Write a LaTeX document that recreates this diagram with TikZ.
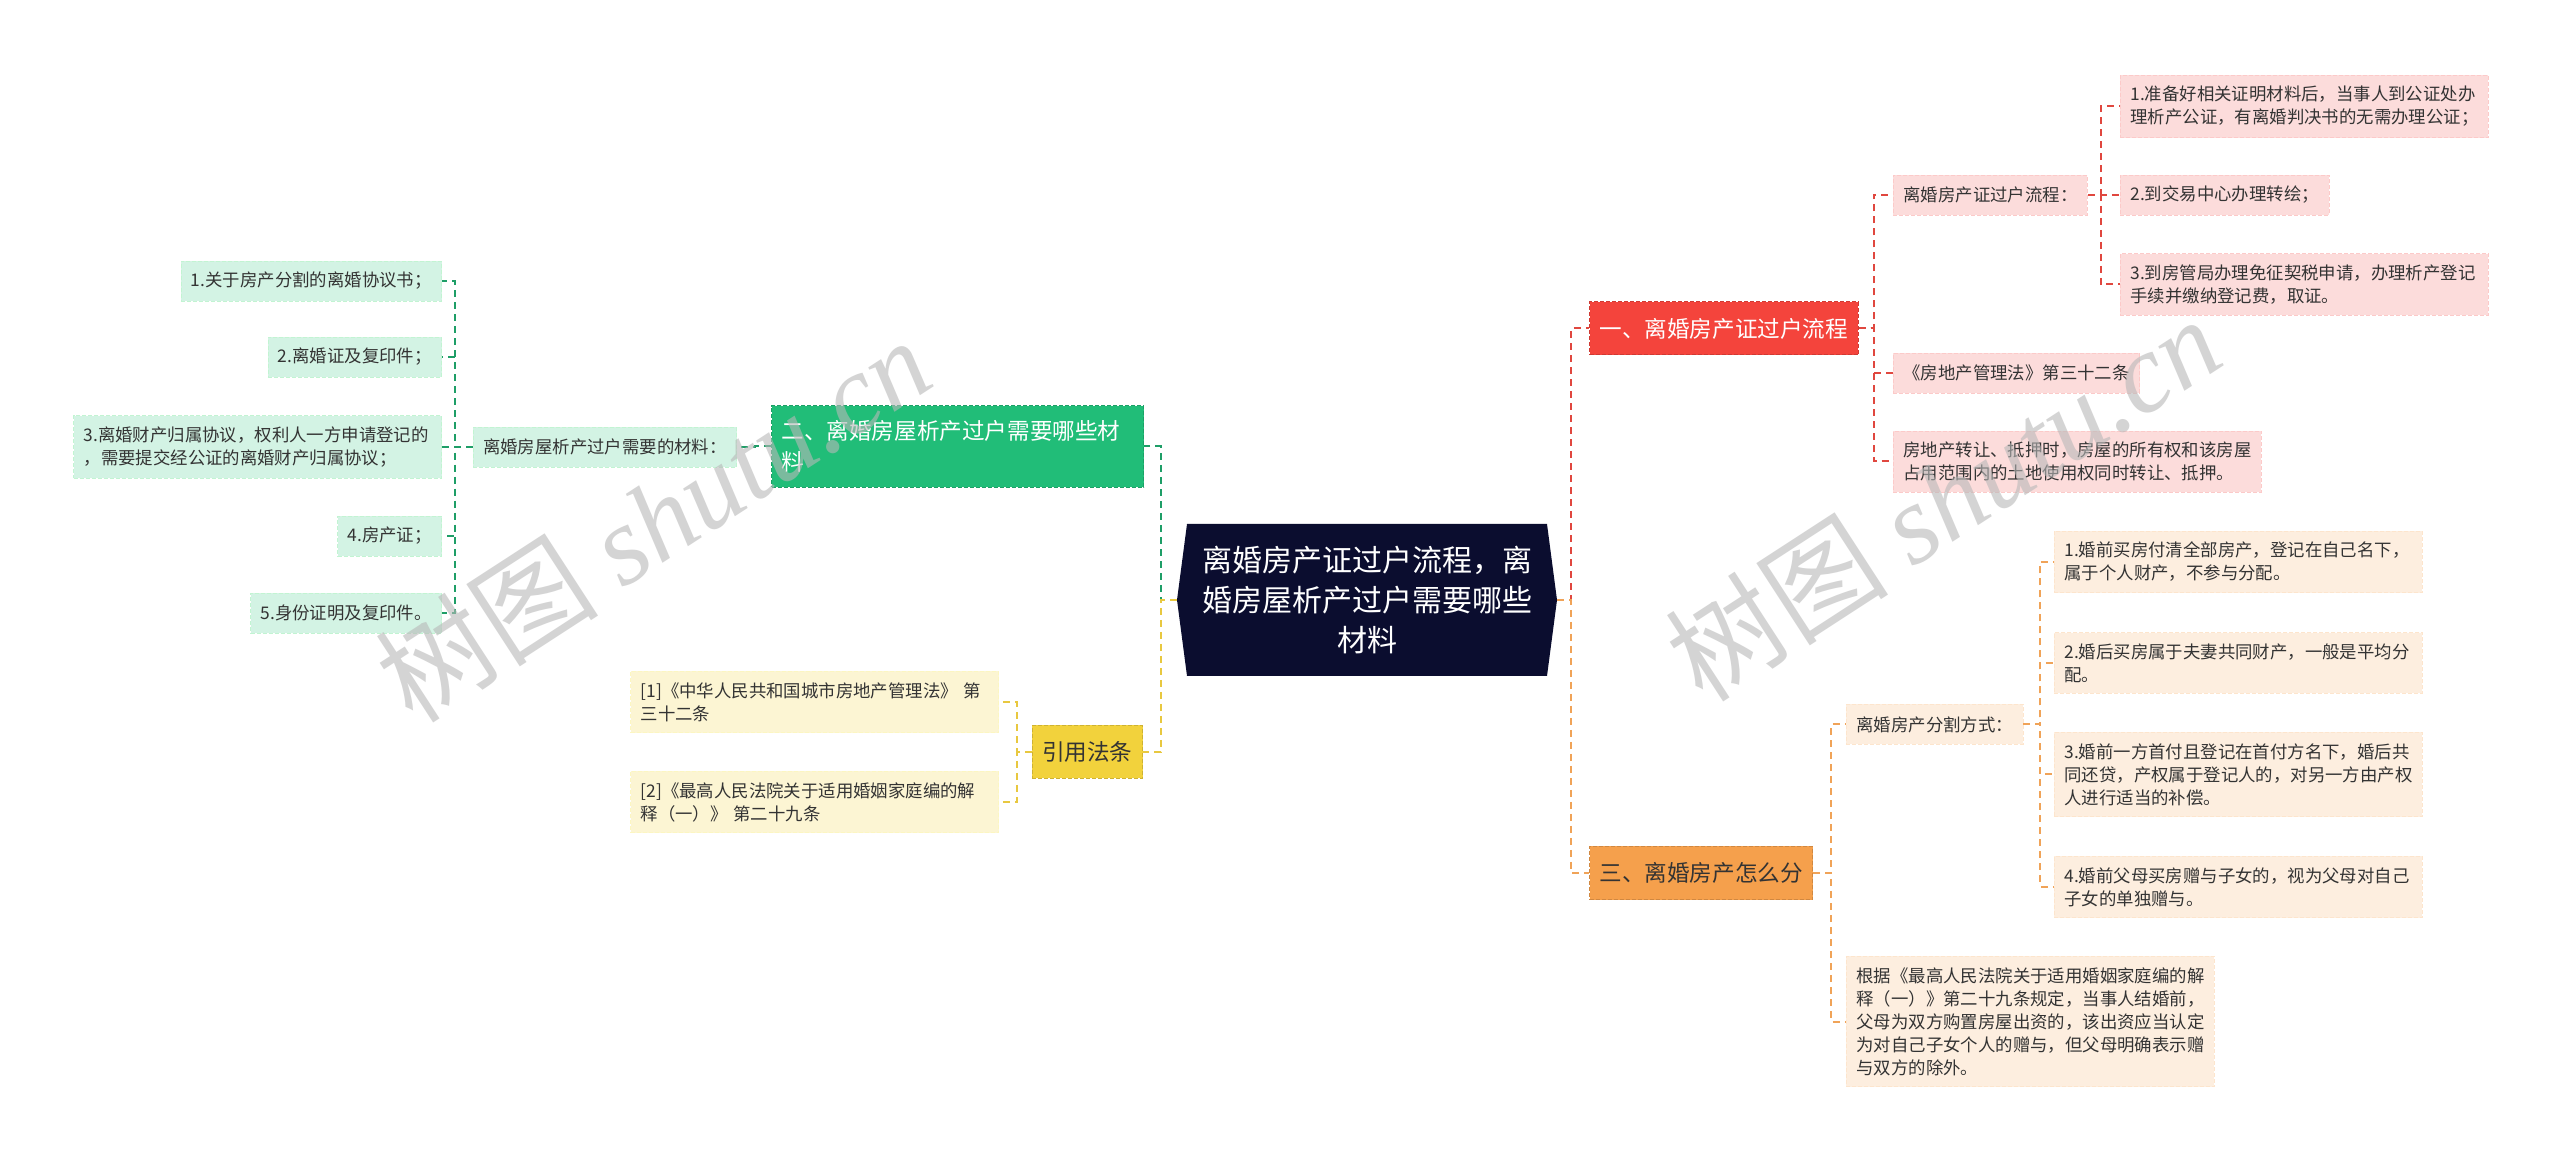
\documentclass[tikz,border=0pt]{standalone}
\usepackage{fontspec}
\setmainfont{Noto Sans CJK SC}
\newfontfamily\wmlatin{Liberation Serif}
\usetikzlibrary{shapes.symbols}

\definecolor{rootfill}{HTML}{0B0D2F}
\definecolor{redtopic}{HTML}{F4443C}
\definecolor{redleaf}{HTML}{FCDCDB}
\definecolor{redlink}{HTML}{E0473F}
\definecolor{orangetopic}{HTML}{F5A04C}
\definecolor{orangeleaf}{HTML}{FDEEDF}
\definecolor{orangelink}{HTML}{F0A358}
\definecolor{greentopic}{HTML}{21BD78}
\definecolor{greenleaf}{HTML}{D3F3E4}
\definecolor{greenlink}{HTML}{1E9E67}
\definecolor{yellowtopic}{HTML}{F2D23C}
\definecolor{yellowleaf}{HTML}{FCF5D3}
\definecolor{yellowlink}{HTML}{E8C840}
\definecolor{textdark}{HTML}{333333}
\definecolor{wmgray}{HTML}{B8B8B8}

\begin{document}
\begin{tikzpicture}[
  x=0.5pt,y=-0.5pt,
  root/.style={shape=signal,signal to=east and west,signal pointer angle=165,
    fill=rootfill,text=white,font=\fontsize{15}{20}\selectfont,align=center,
    text width=166pt,minimum width=190pt,minimum height=76pt,inner xsep=6pt,inner ysep=4pt},
  topic/.style={font=\fontsize{11.3}{15.3}\selectfont,inner xsep=5pt,inner ysep=7.5pt,
    minimum height=26.5pt,align=left,dash pattern=on 2pt off 1pt,line width=.5pt},
  leaf/.style={font=\fontsize{8.7}{11.5}\selectfont,text=textdark,inner xsep=5pt,inner ysep=5.5pt,
    minimum height=20pt,align=left,dash pattern=on 2pt off 1pt,line width=.4pt},
  wide/.style={text width=174pt},
  redbox/.style={leaf,fill=redleaf,draw=redleaf!92!red},
  orangebox/.style={leaf,fill=orangeleaf,draw=orangeleaf!92!orange},
  greenbox/.style={leaf,fill=greenleaf,draw=greenleaf!92!green},
  yellowbox/.style={leaf,fill=yellowleaf,draw=yellowleaf!92!yellow},
  link/.style={line width=1pt,dash pattern=on 3.5pt off 2.5pt},
  wm/.style={text=wmgray,opacity=.6,font=\fontsize{56}{56}\selectfont}
]
  \path[use as bounding box,fill=white] (0,0) rectangle (2560,1159);

  \node[root] (root) at (1367,600) {离婚房产证过户流程，离\\婚房屋析产过户需要哪些\\材料};

  % first level
  \node[topic,fill=redtopic,draw=redtopic!85!black,text=white,anchor=west] (proc) at (1589,328.5) {一、离婚房产证过户流程};
  \node[topic,fill=orangetopic,draw=orangetopic!85!black,text=textdark,anchor=west] (split) at (1589,873) {三、离婚房产怎么分};
  \node[topic,fill=greentopic,draw=greentopic!85!black,text=white,text width=176pt,anchor=east] (mater) at (1144,446.5) {二、离婚房屋析产过户需要哪些材\\料};
  \node[topic,fill=yellowtopic,draw=yellowtopic!85!black,text=textdark,anchor=east] (laws) at (1143,752) {引用法条};

  % red branch
  \node[redbox,anchor=west] (procsteps) at (1893,195) {离婚房产证过户流程：};
  \node[redbox,wide,anchor=west] (stepa) at (2120,106.5) {1.准备好相关证明材料后，当事人到公证处办\\理析产公证，有离婚判决书的无需办理公证；};
  \node[redbox,anchor=west] (stepb) at (2120,195) {2.到交易中心办理转绘；};
  \node[redbox,wide,anchor=west] (stepc) at (2120,284.5) {3.到房管局办理免征契税申请，办理析产登记\\手续并缴纳登记费，取证。};
  \node[redbox,anchor=west] (lawref) at (1893,373) {《房地产管理法》第三十二条};
  \node[redbox,wide,anchor=west] (lawtext) at (1893,461.5) {房地产转让、抵押时，房屋的所有权和该房屋\\占用范围内的土地使用权同时转让、抵押。};

  % orange branch
  \node[orangebox,anchor=west] (splitways) at (1846,724.5) {离婚房产分割方式：};
  \node[orangebox,wide,anchor=west] (waya) at (2054,562) {1.婚前买房付清全部房产，登记在自己名下，\\属于个人财产，不参与分配。};
  \node[orangebox,wide,anchor=west] (wayb) at (2054,663) {2.婚后买房属于夫妻共同财产，一般是平均分\\配。};
  \node[orangebox,wide,anchor=west] (wayc) at (2054,774.5) {3.婚前一方首付且登记在首付方名下，婚后共\\同还贷，产权属于登记人的，对另一方由产权\\人进行适当的补偿。};
  \node[orangebox,wide,anchor=west] (wayd) at (2054,887) {4.婚前父母买房赠与子女的，视为父母对自己\\子女的单独赠与。};
  \node[orangebox,wide,anchor=west] (splitrule) at (1846,1021.5) {根据《最高人民法院关于适用婚姻家庭编的解\\释（一）》第二十九条规定，当事人结婚前，\\父母为双方购置房屋出资的，该出资应当认定\\为对自己子女个人的赠与，但父母明确表示赠\\与双方的除外。};

  % green branch
  \node[greenbox,anchor=east] (matlist) at (737,447) {离婚房屋析产过户需要的材料：};
  \node[greenbox,anchor=east] (mata) at (442,281) {1.关于房产分割的离婚协议书；};
  \node[greenbox,anchor=east] (matb) at (442,357) {2.离婚证及复印件；};
  \node[greenbox,wide,anchor=east] (matc) at (442,447) {3.离婚财产归属协议，权利人一方申请登记的\\，需要提交经公证的离婚财产归属协议；};
  \node[greenbox,anchor=east] (matd) at (442,536) {4.房产证；};
  \node[greenbox,anchor=east] (mate) at (442,613) {5.身份证明及复印件。};

  % yellow branch
  \node[yellowbox,wide,anchor=east] (lawa) at (999,702) {[1]《中华人民共和国城市房地产管理法》 第\\三十二条};
  \node[yellowbox,wide,anchor=east] (lawb) at (999,802) {[2]《最高人民法院关于适用婚姻家庭编的解\\释（一）》 第二十九条};

  % connectors
  \draw[link,redlink] (root.east) -- ++(7pt,0) |- (proc.west);
  \draw[link,orangelink] (root.east) -- ++(7pt,0) |- (split.west);
  \draw[link,greenlink] (root.west) -- ++(-8pt,0) |- (mater.east);
  \draw[link,yellowlink] (root.west) -- ++(-8pt,0) |- (laws.east);

  \draw[link,redlink] (proc.east) -- ++(7.5pt,0) |- (procsteps.west);
  \draw[link,redlink] (proc.east) -- ++(7.5pt,0) |- (lawref.west);
  \draw[link,redlink] (proc.east) -- ++(7.5pt,0) |- (lawtext.west);
  \draw[link,redlink] (procsteps.east) -- ++(6.5pt,0) |- (stepa.west);
  \draw[link,redlink] (procsteps.east) -- ++(6.5pt,0) |- (stepb.west);
  \draw[link,redlink] (procsteps.east) -- ++(6.5pt,0) |- (stepc.west);

  \draw[link,orangelink] (split.east) -- ++(9pt,0) |- (splitways.west);
  \draw[link,orangelink] (split.east) -- ++(9pt,0) |- (splitrule.west);
  \draw[link,orangelink] (splitways.east) -- ++(8.5pt,0) |- (waya.west);
  \draw[link,orangelink] (splitways.east) -- ++(8.5pt,0) |- (wayb.west);
  \draw[link,orangelink] (splitways.east) -- ++(8.5pt,0) |- (wayc.west);
  \draw[link,orangelink] (splitways.east) -- ++(8.5pt,0) |- (wayd.west);

  \draw[link,greenlink] (mater.west) -- ++(-8pt,0) |- (matlist.east);
  \draw[link,greenlink] (matlist.west) -- ++(-9pt,0) |- (mata.east);
  \draw[link,greenlink] (matlist.west) -- ++(-9pt,0) |- (matb.east);
  \draw[link,greenlink] (matlist.west) -- ++(-9pt,0) |- (matc.east);
  \draw[link,greenlink] (matlist.west) -- ++(-9pt,0) |- (matd.east);
  \draw[link,greenlink] (matlist.west) -- ++(-9pt,0) |- (mate.east);

  \draw[link,yellowlink] (laws.west) -- ++(-7.5pt,0) |- (lawa.east);
  \draw[link,yellowlink] (laws.west) -- ++(-7.5pt,0) |- (lawb.east);

  % watermark
  \node[wm,rotate=33] (wmleft) at (653,519) {树图 {\wmlatin\itshape shutu.cn}};
  \node[wm,rotate=33] (wmright) at (1943,498) {树图 {\wmlatin\itshape shutu.cn}};
\end{tikzpicture}
\end{document}
